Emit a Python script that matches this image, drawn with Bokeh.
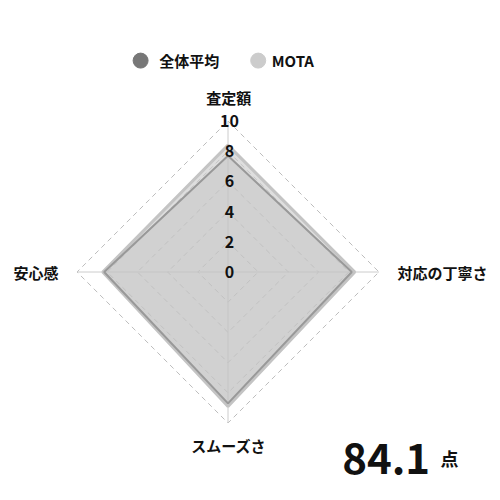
import numpy as np
from bokeh.plotting import figure
from bokeh.models import Range1d
from bokeh.core.properties import value
from bokeh.embed import file_html
from bokeh.resources import INLINE

# radar data
categories = ["査定額", "対応の丁寧さ", "スムーズさ", "安心感"]
avg_values = [7.7, 8.2, 8.7, 8.2]
mota_values = [8.4, 8.4, 8.9, 8.3]
series_names = ["全体平均", "MOTA"]
tick_values = [0, 2, 4, 6, 8, 10]
score = "84.1"
score_unit = "点"

FONT = value("Noto Sans CJK JP")
max_val = 10

# clockwise from the top
angles = np.pi / 2 - np.arange(len(categories)) * 2 * np.pi / len(categories)

def to_xy(vals):
    vals = np.asarray(vals, dtype=float)
    return list(vals * np.cos(angles)), list(vals * np.sin(angles))

p = figure(width=500, height=490, output_backend="svg", toolbar_location=None,
           x_range=Range1d(-15.07, 18.05), y_range=Range1d(-14.47, 17.98),
           min_border=0)
p.axis.visible = False
p.grid.visible = False
p.outline_line_color = None

# grid rings and spokes
for t in tick_values[1:]:
    xs, ys = to_xy([t] * len(categories))
    p.line(xs + [xs[0]], ys + [ys[0]], line_color="#bdbdbd", line_width=1, line_dash="5 4")
ex, ey = to_xy([max_val] * len(categories))
for x, y in zip(ex, ey):
    p.line([0, x], [0, y], line_color="#cccccc", line_width=1)

# series
mx, my = to_xy(mota_values)
p.patch(mx, my, fill_color="#c8c8c8", fill_alpha=0.6, line_color="#c4c4c4", line_width=3)
ax, ay = to_xy(avg_values)
p.patch(ax, ay, fill_color="#bbbbbb", fill_alpha=0.35, line_color="#999999", line_width=2)

# tick labels
p.text(x=[0.1] * len(tick_values), y=tick_values, text=[str(t) for t in tick_values],
       text_font=FONT, text_font_style="bold", text_font_size="16px",
       text_align="center", text_baseline="middle", text_color="#111111")

# category labels
lx = [0.05, 11.23, 0.05, -11.23]
ly = [11.56, 0, -11.49, 0]
aligns = ["center", "left", "center", "right"]
for c, x, y, a in zip(categories, lx, ly, aligns):
    p.text(x=[x], y=[y], text=[c], text_font=FONT, text_font_style="bold",
           text_font_size="15px", text_align=a, text_baseline="middle", text_color="#111111")

# legend
p.scatter(x=[-5.79, 2.0], y=[14.0, 14.0], size=15, color=["#777777", "#cccccc"])
p.text(x=[-4.55, 2.9], y=[14.0, 14.0], text=series_names, text_font=FONT,
       text_font_style="bold", text_font_size="15px", text_baseline="middle", text_color="#111111")

# total score
p.text(x=[7.56], y=[-12.35], text=[score], text_font=FONT, text_font_style="bold",
       text_font_size="42px", text_baseline="alphabetic", text_color="#111111")
p.text(x=[14.07], y=[-12.35], text=[score_unit], text_font=FONT, text_font_style="bold",
       text_font_size="18px", text_baseline="alphabetic", text_color="#111111")

open("out.html", "w").write(file_html(p, INLINE))
